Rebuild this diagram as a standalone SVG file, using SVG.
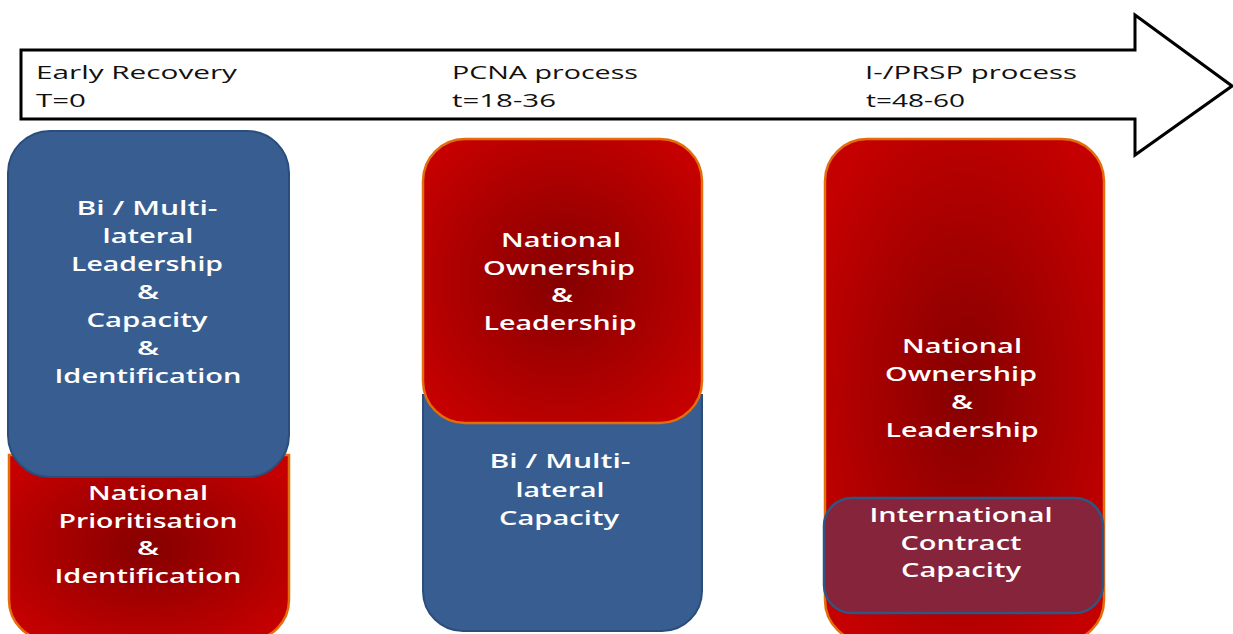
<svg xmlns="http://www.w3.org/2000/svg" width="1233" height="634" viewBox="0 0 1233 634">
<defs>
<radialGradient id="redGrad" cx="50%" cy="50%" r="60%">
<stop offset="0" stop-color="#850000"/>
<stop offset="1" stop-color="#c40000"/>
</radialGradient>
</defs>
<style>
.red{fill:url(#redGrad);stroke:#e46c0a;stroke-width:2.5}
.blue{fill:#385e91;stroke:#2a4d7c;stroke-width:2}
.over{fill:#85243a;stroke:#2f5584;stroke-width:2.5}
.lbl{font-family:"Open Sans","DejaVu Sans",sans-serif;font-weight:600;font-size:19px;fill:#ffffff;text-anchor:middle}
.hdr{font-family:"Open Sans","DejaVu Sans",sans-serif;font-size:18px;fill:#111111}
</style>
<rect width="1233" height="634" fill="#ffffff"/>
<g id="timeline">
<polygon points="21,50 1135,50 1135,15 1232,86 1135,155 1135,119 21,119" fill="#ffffff" stroke="#000000" stroke-width="3" stroke-linejoin="miter"/>
<text class="hdr" x="36" y="79" textLength="201" lengthAdjust="spacingAndGlyphs">Early Recovery</text>
<text class="hdr" x="36" y="107" textLength="50" lengthAdjust="spacingAndGlyphs">T=0</text>
<text class="hdr" x="452" y="79" textLength="186" lengthAdjust="spacingAndGlyphs">PCNA process</text>
<text class="hdr" x="452" y="107" textLength="104" lengthAdjust="spacingAndGlyphs">t=18-36</text>
<text class="hdr" x="865" y="79" textLength="212" lengthAdjust="spacingAndGlyphs">I-/PRSP process</text>
<text class="hdr" x="866" y="107" textLength="99" lengthAdjust="spacingAndGlyphs">t=48-60</text>
</g>
<g id="col1-national">
<path class="red" d="M9,455 H289 V600 A40,40 0 0 1 249,640 H49 A40,40 0 0 1 9,600 Z"/>
<text class="lbl" x="148" y="500" textLength="120" lengthAdjust="spacingAndGlyphs">National</text>
<text class="lbl" x="148" y="528" textLength="179" lengthAdjust="spacingAndGlyphs">Prioritisation</text>
<text class="lbl" x="148" y="555" textLength="22" lengthAdjust="spacingAndGlyphs">&amp;</text>
<text class="lbl" x="148" y="583" textLength="187" lengthAdjust="spacingAndGlyphs">Identification</text>
</g>
<g id="col1-bilateral">
<rect class="blue" x="8" y="131" width="281" height="346" rx="42"/>
<text class="lbl" x="147" y="215" textLength="141" lengthAdjust="spacingAndGlyphs">Bi / Multi-</text>
<text class="lbl" x="148" y="243" textLength="91" lengthAdjust="spacingAndGlyphs">lateral</text>
<text class="lbl" x="147" y="271" textLength="152" lengthAdjust="spacingAndGlyphs">Leadership</text>
<text class="lbl" x="148" y="299" textLength="22" lengthAdjust="spacingAndGlyphs">&amp;</text>
<text class="lbl" x="147" y="327" textLength="121" lengthAdjust="spacingAndGlyphs">Capacity</text>
<text class="lbl" x="148" y="355" textLength="22" lengthAdjust="spacingAndGlyphs">&amp;</text>
<text class="lbl" x="148" y="383" textLength="187" lengthAdjust="spacingAndGlyphs">Identification</text>
</g>
<g id="col2-bilateral">
<path class="blue" d="M423,395 H702 V591 A40,40 0 0 1 662,631 H463 A40,40 0 0 1 423,591 Z"/>
<text class="lbl" x="560" y="468" textLength="141" lengthAdjust="spacingAndGlyphs">Bi / Multi-</text>
<text class="lbl" x="560" y="497" textLength="89" lengthAdjust="spacingAndGlyphs">lateral</text>
<text class="lbl" x="559" y="525" textLength="120" lengthAdjust="spacingAndGlyphs">Capacity</text>
</g>
<g id="col2-national">
<rect class="red" x="423" y="139" width="279" height="284" rx="42"/>
<text class="lbl" x="561" y="247" textLength="120" lengthAdjust="spacingAndGlyphs">National</text>
<text class="lbl" x="559" y="275" textLength="152" lengthAdjust="spacingAndGlyphs">Ownership</text>
<text class="lbl" x="562" y="302" textLength="22" lengthAdjust="spacingAndGlyphs">&amp;</text>
<text class="lbl" x="560" y="330" textLength="153" lengthAdjust="spacingAndGlyphs">Leadership</text>
</g>
<g id="col3-national">
<rect class="red" x="825" y="139" width="279" height="503" rx="42"/>
<text class="lbl" x="962" y="353" textLength="120" lengthAdjust="spacingAndGlyphs">National</text>
<text class="lbl" x="961" y="381" textLength="152" lengthAdjust="spacingAndGlyphs">Ownership</text>
<text class="lbl" x="962" y="409" textLength="22" lengthAdjust="spacingAndGlyphs">&amp;</text>
<text class="lbl" x="962" y="437" textLength="153" lengthAdjust="spacingAndGlyphs">Leadership</text>
</g>
<g id="col3-international">
<rect class="over" x="824" y="498" width="279" height="115" rx="28"/>
<text class="lbl" x="961" y="522" textLength="183" lengthAdjust="spacingAndGlyphs">International</text>
<text class="lbl" x="961" y="550" textLength="121" lengthAdjust="spacingAndGlyphs">Contract</text>
<text class="lbl" x="961" y="577" textLength="120" lengthAdjust="spacingAndGlyphs">Capacity</text>
</g>
<g id="connectors"></g>
</svg>
